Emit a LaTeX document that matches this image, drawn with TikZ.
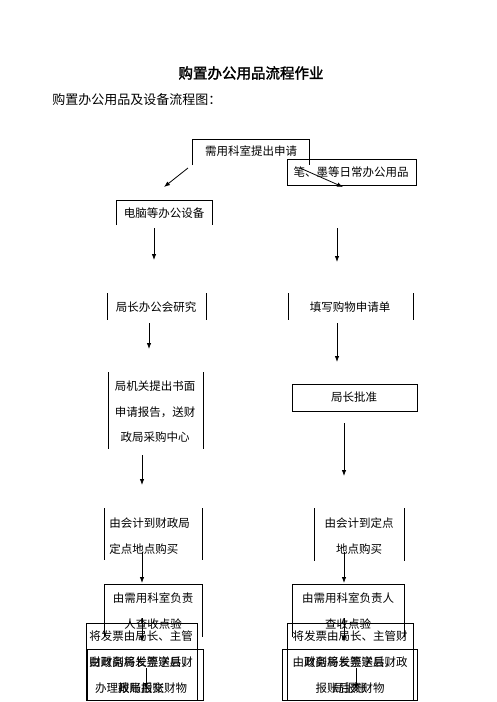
\documentclass[tikz,border=0pt]{standalone}
\usepackage{fontspec}
\setmainfont{Noto Sans CJK SC}[AutoFakeBold=2]
\usetikzlibrary{arrows.meta}

\begin{document}
\begin{tikzpicture}[x=1pt,y=-1pt,line width=0.8pt,
    txt/.style={font=\fontsize{11.5}{26}\selectfont,align=center,inner sep=0pt},
    flow/.style={-{Latex[length=6pt,width=4.5pt]}}]
      \useasboundingbox (0,0) rectangle (496,702);
      \node[font=\fontsize{14.5}{16}\selectfont\bfseries] (title) at (251,73) {购置办公用品流程作业};
      \node[font=\fontsize{13}{14}\selectfont,anchor=west,inner sep=0pt] (sub) at (52,100) {购置办公用品及设备流程图：};
      % request and the two branches
      \draw (192,165) -- (192,139) -- (309,139) -- (309,165);
      \node[txt] (need) at (251,151) {需用科室提出申请};
      \draw (287,159) rectangle (416,185);
      \node[txt] (pen) at (351,172) {笔、墨等日常办公用品};
      \coordinate (d1) at (188,168); \coordinate (d2) at (164,187);
      \draw[flow] (d1) -- (d2);
      \coordinate (d3) at (300,168); \coordinate (d4) at (343,187);
      \draw[flow] (d3) -- (d4);
      \draw (116,225) -- (116,200) -- (212,200) -- (212,225);
      \node[txt] (pc) at (164,213) {电脑等办公设备};
      \coordinate (l1) at (154,228); \coordinate (l2) at (154,260);
      \draw[flow] (l1) -- (l2);
      \coordinate (r1) at (337,228); \coordinate (r2) at (337,262);
      \draw[flow] (r1) -- (r2);
      % second row
      \draw (107,293) -- (107,320);
      \draw (206,293) -- (206,320);
      \node[txt] (meet) at (156,307) {局长办公会研究};
      \draw (288,293) -- (288,320);
      \draw (413,293) -- (413,320);
      \node[txt] (form) at (350,307) {填写购物申请单};
      \coordinate (l3) at (149,323); \coordinate (l4) at (149,349);
      \draw[flow] (l3) -- (l4);
      \coordinate (r3) at (337,323); \coordinate (r4) at (337,362);
      \draw[flow] (r3) -- (r4);
      % third row
      \draw (108,372) -- (108,449);
      \draw (203,372) -- (203,449);
      \node[txt,font=\fontsize{11.5}{25.5}\selectfont] (report) at (155,412) {局机关提出书面\\申请报告，送财\\政局采购中心};
      \draw (292,384) rectangle (417,411);
      \node[txt] (ok) at (354,397) {局长批准};
      \coordinate (l5) at (142,455); \coordinate (l6) at (142,485);
      \draw[flow] (l5) -- (l6);
      \coordinate (r5) at (344,423); \coordinate (r6) at (344,476);
      \draw[flow] (r5) -- (r6);
      % purchase
      \draw (104,508) -- (104,560);
      \draw (202,508) -- (202,560);
      \node[txt,align=left,anchor=west] (buyL) at (109,536) {由会计到财政局\\定点地点购买};
      \draw (314,508) -- (314,561);
      \draw (404,508) -- (404,561);
      \node[txt] (buyR) at (359,536) {由会计到定点\\地点购买};
      \coordinate (l7) at (142,552); \coordinate (l8) at (142,583);
      \draw[flow] (l7) -- (l8);
      \coordinate (r7) at (344,552); \coordinate (r8) at (344,583);
      \draw[flow] (r7) -- (r8);
      % checking
      \draw (104,637) -- (104,584) -- (202,584) -- (202,637);
      \node[txt] (chkL) at (153,611) {由需用科室负责\\人查收点验};
      \draw (292,637) -- (292,584) -- (404,584) -- (404,637);
      \node[txt] (chkR) at (348,611) {由需用科室负责人\\查收点验};
      \coordinate (l9) at (142,618); \coordinate (l10) at (142,642);
      \draw[flow] (l9) -- (l10);
      \coordinate (r9) at (344,618); \coordinate (r10) at (344,642);
      \draw[flow] (r9) -- (r10);
      % invoices
      \draw (86,623) rectangle (197,700);
      \node[txt] (billL) at (141,662) {将发票由局长、主管\\财政副局长签字后，\\办理报账后交财物};
      \draw (87,649) rectangle (203,700);
      \node[txt] (sendL) at (141,675) {由财务将发票送县财\\政局报账};
      \draw (287,623) rectangle (413,700);
      \node[txt] (billR) at (350,662) {将发票由局长、主管财\\政副局长签字后，\\报账后交财物};
      \draw (282,649) rectangle (417,700);
      \node[txt] (sendR) at (350,675) {由财务将发票送县财政\\局报账};
      \coordinate (l11) at (146,668); \coordinate (l12) at (146,689);
      \draw[flow] (l11) -- (l12);
      \coordinate (r11) at (356,668); \coordinate (r12) at (356,690);
      \draw[flow] (r11) -- (r12);
    \end{tikzpicture}
\end{document}
